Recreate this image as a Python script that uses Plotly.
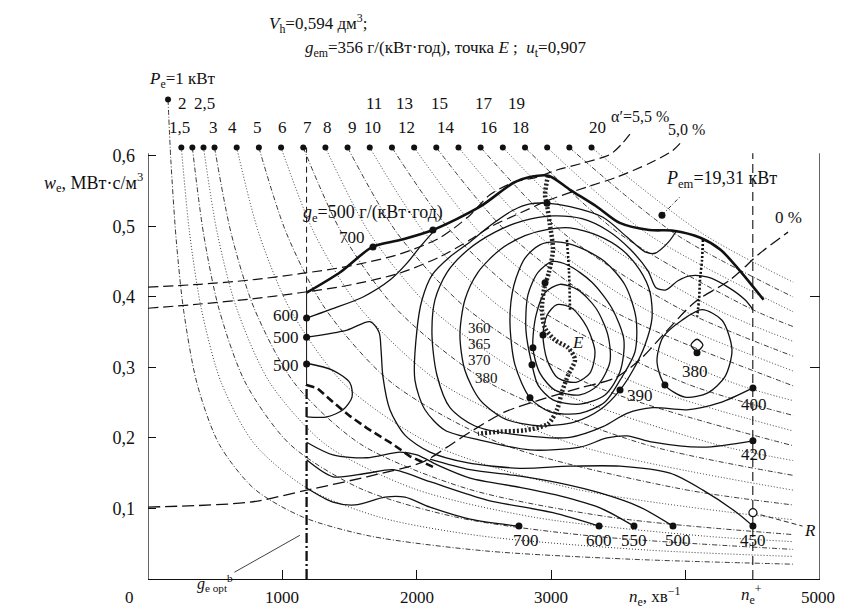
import plotly.graph_objects as go

SERIF = "Liberation Serif"
INK = "#111111"

# ---------------- data: n_e (min^-1), w_e (MJ/m^3) ----------------
full_load_n = [1180, 1430, 1670, 1880, 2120, 2470, 2720, 2840, 2980, 3140, 3340, 3510, 3730, 3910, 4110, 4260, 4400, 4580]
full_load_w = [0.406, 0.435, 0.471, 0.481, 0.495, 0.528, 0.562, 0.570, 0.572, 0.552, 0.528, 0.505, 0.495, 0.494, 0.484, 0.467, 0.438, 0.396]

power_kw = [1, 1.5, 2, 2.5, 3, 4, 5, 6, 7, 8, 9, 10, 11, 12, 13, 14, 15, 16, 17, 18, 19, 20]
power_n = [
    [149, 170, 210, 265, 365, 530, 790, 1150, 1650, 2500, 3600, 4800],
    [248, 310, 397, 546, 794, 1190, 1736, 2480, 3720, 4800],
    [330, 413, 528, 726, 1056, 1584, 2310, 3300, 4800],
    [413, 516, 661, 908, 1320, 1980, 2890, 4130, 4800],
    [495, 619, 792, 1089, 1584, 2376, 3465, 4800],
    [660, 825, 1056, 1452, 2112, 3168, 4800],
    [825, 1031, 1320, 1815, 2640, 3960, 4800],
    [990, 1238, 1584, 2178, 3168, 4800],
    [1155, 1444, 1848, 2541, 3696, 4800],
    [1320, 1650, 2112, 2904, 4224, 4800],
    [1485, 1856, 2376, 3267, 4800],
    [1650, 2063, 2640, 3630, 4800],
    [1815, 2269, 2904, 3993, 4800],
    [1980, 2475, 3168, 4356, 4800],
    [2145, 2681, 3432, 4800],
    [2310, 2888, 3696, 4800],
    [2475, 3094, 3960, 4800],
    [2640, 3300, 4224, 4800],
    [2805, 3506, 4488, 4800],
    [2970, 3713, 4800],
    [3135, 3919, 4800],
    [3300, 4125, 4800],
]
power_w = [
    [0.68, 0.594, 0.481, 0.381, 0.277, 0.191, 0.128, 0.088, 0.061, 0.040, 0.028, 0.021],
    [0.612, 0.490, 0.383, 0.278, 0.191, 0.128, 0.087, 0.061, 0.041, 0.032],
    [0.612, 0.490, 0.383, 0.278, 0.191, 0.128, 0.087, 0.061, 0.042],
    [0.612, 0.490, 0.383, 0.278, 0.191, 0.128, 0.087, 0.061, 0.053],
    [0.612, 0.490, 0.383, 0.278, 0.191, 0.128, 0.087, 0.063],
    [0.612, 0.490, 0.383, 0.278, 0.191, 0.128, 0.084],
    [0.612, 0.490, 0.383, 0.278, 0.191, 0.128, 0.105],
    [0.612, 0.490, 0.383, 0.278, 0.191, 0.126],
    [0.612, 0.490, 0.383, 0.278, 0.191, 0.147],
    [0.612, 0.490, 0.383, 0.278, 0.191, 0.168],
    [0.612, 0.490, 0.383, 0.278, 0.189],
    [0.612, 0.490, 0.383, 0.278, 0.210],
    [0.612, 0.490, 0.383, 0.278, 0.232],
    [0.612, 0.490, 0.383, 0.278, 0.253],
    [0.612, 0.490, 0.383, 0.274],
    [0.612, 0.490, 0.383, 0.295],
    [0.612, 0.490, 0.383, 0.316],
    [0.612, 0.490, 0.383, 0.337],
    [0.612, 0.490, 0.383, 0.358],
    [0.612, 0.490, 0.379],
    [0.612, 0.490, 0.400],
    [0.612, 0.490, 0.421],
]
power_label_top = ["2", "2,5", "11", "13", "15", "17", "19"]
power_label_top_n = [260, 424, 1681, 1912, 2172, 2500, 2745]
power_label_low = ["1,5", "3", "4", "5", "6", "7", "8", "9", "10", "12", "14", "16", "18", "20"]
power_label_low_n = [238, 484, 632, 811, 997, 1183, 1339, 1518, 1667, 1920, 2217, 2530, 2775, 3348]

# specific fuel consumption contours g_e, g/(kW*h)
ge360_n = [2939, 2969, 3043, 3155, 3266, 3326, 3288, 3184, 3050, 2969, 2939]
ge360_w = [0.346, 0.374, 0.389, 0.384, 0.357, 0.322, 0.292, 0.279, 0.285, 0.311, 0.346]
ge365_n = [2864, 2887, 2954, 3065, 3199, 3333, 3422, 3437, 3348, 3214, 3028, 2916, 2864]
ge365_w = [0.328, 0.374, 0.406, 0.418, 0.410, 0.384, 0.346, 0.308, 0.275, 0.261, 0.268, 0.292, 0.328]
ge370_n = [2857, 2812, 2827, 2902, 3006, 3125, 3303, 3452, 3541, 3512, 3400, 3214, 3013, 2902, 2857]
ge370_w = [0.304, 0.353, 0.403, 0.435, 0.450, 0.445, 0.421, 0.384, 0.339, 0.294, 0.261, 0.248, 0.254, 0.275, 0.304]
ge380_n = [2842, 2730, 2693, 2723, 2805, 2916, 3043, 3214, 3400, 3549, 3631, 3623, 3512, 3400, 3214, 2991, 2842]
ge380_w = [0.257, 0.304, 0.367, 0.417, 0.455, 0.474, 0.478, 0.470, 0.450, 0.417, 0.370, 0.322, 0.282, 0.251, 0.235, 0.237, 0.257]
ge390_n = [3512, 3608, 3698, 3750, 3735, 3660, 3527, 3348, 3140, 2976, 2805, 2619, 2455, 2358, 2321, 2358, 2470, 2656, 2916, 3177, 3363, 3512]
ge390_w = [0.268, 0.296, 0.332, 0.370, 0.407, 0.438, 0.467, 0.487, 0.498, 0.496, 0.487, 0.467, 0.435, 0.396, 0.346, 0.296, 0.254, 0.227, 0.217, 0.223, 0.240, 0.268]
ge380b_n = [3846, 3787, 3832, 3973, 4122, 4271, 4345, 4293, 4166, 3995, 3846]
ge380b_w = [0.275, 0.308, 0.343, 0.367, 0.382, 0.367, 0.325, 0.287, 0.264, 0.258, 0.275]
ge380c_n = [4040, 4085, 4129, 4085, 4040]
ge380c_w = [0.332, 0.340, 0.332, 0.323, 0.332]
ge400_n = [4501, 4256, 4010, 3757, 3564, 3385, 3140, 2768, 2433, 2247, 2150, 2113, 2135, 2225, 2381, 2582, 2790, 3013, 3229, 3422, 3586, 3720, 3780, 3854, 3943, 4032, 4166, 4315, 4442, 4501]
ge400_w = [0.271, 0.250, 0.240, 0.243, 0.235, 0.216, 0.201, 0.204, 0.217, 0.243, 0.289, 0.346, 0.396, 0.435, 0.467, 0.492, 0.508, 0.515, 0.511, 0.494, 0.468, 0.437, 0.413, 0.410, 0.423, 0.430, 0.428, 0.414, 0.396, 0.382]
ge420_n = [3936, 3869, 3772, 3698, 3564, 3385, 3140, 2969, 2842, 2716, 2544, 2396, 2247, 2113, 2039, 2001, 1986, 2061, 2210, 2470, 2842, 3214, 3415, 3564, 3757, 4129, 4501]
ge420_w = [0.495, 0.477, 0.462, 0.464, 0.485, 0.513, 0.528, 0.533, 0.532, 0.523, 0.501, 0.478, 0.457, 0.431, 0.396, 0.353, 0.282, 0.240, 0.211, 0.197, 0.183, 0.187, 0.200, 0.203, 0.194, 0.187, 0.196]
ge450_n = [1180, 1481, 1652, 1719, 1734, 1748, 1800, 1912, 2098, 2373, 2768, 3140, 3512, 3884, 4129, 4382, 4501]
ge450_w = [0.343, 0.353, 0.365, 0.350, 0.325, 0.287, 0.240, 0.204, 0.180, 0.165, 0.157, 0.160, 0.160, 0.150, 0.126, 0.094, 0.075]
ge600a_n = [1180, 1354, 1600, 1800, 1927, 2024, 2120]
ge600a_w = [0.370, 0.382, 0.400, 0.424, 0.448, 0.471, 0.492]
ge500loop_n = [1180, 1376, 1503, 1518, 1451, 1332, 1180]
ge500loop_w = [0.306, 0.296, 0.278, 0.258, 0.240, 0.230, 0.230]
ge500_n = [2098, 2396, 2768, 3065, 3363, 3660, 3906]
ge500_w = [0.170, 0.155, 0.146, 0.136, 0.122, 0.102, 0.075]
ge550_n = [1180, 1376, 1629, 1875, 2001, 2172, 2396, 2768, 3065, 3363, 3616]
ge550_w = [0.194, 0.176, 0.172, 0.180, 0.176, 0.160, 0.143, 0.130, 0.118, 0.101, 0.075]
ge600_n = [1180, 1376, 1629, 1823, 2098, 2522, 3013, 3356]
ge600_w = [0.169, 0.145, 0.150, 0.155, 0.138, 0.112, 0.094, 0.075]
ge700_n = [1180, 1376, 1540, 1763, 1912, 2098, 2396, 2760]
ge700_w = [0.129, 0.109, 0.105, 0.116, 0.116, 0.102, 0.085, 0.075]

# regulation lines alpha'
alpha55_n = [0, 387, 759, 1131, 1503, 1875, 2172, 2396, 2544, 2716, 2894, 3043, 3236, 3437, 3530, 3590]
alpha55_w = [0.414, 0.418, 0.424, 0.433, 0.444, 0.461, 0.484, 0.516, 0.545, 0.562, 0.570, 0.580, 0.590, 0.602, 0.618, 0.632]
alpha50_n = [0, 387, 759, 1131, 1503, 1875, 2172, 2396, 2544, 2768, 2991, 3266, 3489, 3735, 3900, 3960]
alpha50_w = [0.384, 0.390, 0.397, 0.406, 0.417, 0.434, 0.457, 0.481, 0.499, 0.519, 0.538, 0.556, 0.570, 0.590, 0.607, 0.618]
alpha0_n = [0, 759, 1180, 1629, 2046, 2225, 2418, 2656, 2916, 3214, 3474, 3660, 3846, 4070, 4330, 4553, 4762]
alpha0_w = [0.102, 0.109, 0.126, 0.145, 0.166, 0.187, 0.211, 0.237, 0.254, 0.271, 0.285, 0.311, 0.349, 0.393, 0.424, 0.462, 0.492]

# optimum-control lines
opt_main_n = [2976, 2954, 2969, 2991, 3013, 2983, 2946, 2931, 2954, 3028, 3125, 3177, 3125, 3080, 3043, 2976, 2805, 2619, 2455]
opt_main_w = [0.572, 0.545, 0.530, 0.502, 0.467, 0.435, 0.410, 0.382, 0.356, 0.339, 0.328, 0.311, 0.289, 0.265, 0.240, 0.220, 0.211, 0.209, 0.206]
opt_mid_n = [3117, 3132, 3140]
opt_mid_w = [0.481, 0.438, 0.382]
opt_right_n = [4129, 4122, 4107, 4100, 4085]
opt_right_w = [0.481, 0.452, 0.424, 0.396, 0.372]
bold_dash_n = [1180, 1257, 1376, 1503, 1629, 1823, 1949, 2120]
bold_dash_w = [0.275, 0.271, 0.251, 0.231, 0.214, 0.191, 0.174, 0.159]

n_opt_b = 1180
n_plus = 4500
w_frame_top = 0.604
x_max = 5000
w_max = 0.807

dots_n = [1180, 1180, 1180, 1674, 2120, 2969, 2954, 2939, 2864, 2857, 2842, 3512, 3846, 4501, 4501, 4501, 3906, 3616, 3356, 2760, 3824, 4085]
dots_w = [0.370, 0.343, 0.305, 0.471, 0.495, 0.533, 0.420, 0.346, 0.328, 0.304, 0.257, 0.268, 0.275, 0.271, 0.196, 0.075, 0.075, 0.075, 0.075, 0.075, 0.516, 0.321]
point_r_n = [4501, 4870]
point_r_w = [0.094, 0.075]
pem_leader_n = [3824, 3958]
pem_leader_w = [0.516, 0.542]

x_tick_text = ["0", "1000", "2000", "3000", "5000"]
x_tick_pos = [-134, 1000, 2000, 3000, 4985]

# ---------------- figure ----------------
fig = go.Figure()


def line(xs, ys, width=1.2, dash="solid", shape="spline", color=INK):
    fig.add_trace(go.Scatter(x=xs, y=ys, mode="lines", hoverinfo="skip",
                             line=dict(color=color, width=width, dash=dash, shape=shape,
                                       smoothing=0.8 if shape == "spline" else None)))


# constant power hyperbolas
for i, (xs, ys) in enumerate(zip(power_n, power_w)):
    line(xs, ys, width=0.9, dash="5px,2px,1px,2px" if i % 2 == 0 else "1px,2px", color="#222222")

# vertical lines
line([n_opt_b, n_opt_b], [0, 0.275], width=2.3, dash="10px,3px,2px,3px", shape="linear")
line([n_opt_b, n_opt_b], [0.275, 0.406], width=1.0, shape="linear")
line([n_opt_b, n_opt_b], [0.406, 0.612], width=1.0, dash="6px,4px", shape="linear")
line([n_plus, n_plus], [0, w_frame_top], width=1.1, dash="9px,5px", shape="linear")

# alpha' lines
line(alpha55_n, alpha55_w, width=1.2, dash="10px,5px")
line(alpha50_n, alpha50_w, width=1.2, dash="10px,5px")
line(alpha0_n, alpha0_w, width=1.3, dash="12px,5px")

# g_e contours
for xs, ys in [(ge360_n, ge360_w), (ge365_n, ge365_w), (ge370_n, ge370_w), (ge380_n, ge380_w),
               (ge390_n, ge390_w), (ge380b_n, ge380b_w), (ge380c_n, ge380c_w), (ge400_n, ge400_w),
               (ge420_n, ge420_w), (ge450_n, ge450_w), (ge600a_n, ge600a_w), (ge500loop_n, ge500loop_w),
               (ge500_n, ge500_w), (ge550_n, ge550_w), (ge600_n, ge600_w), (ge700_n, ge700_w)]:
    line(xs, ys, width=1.3)

# optimum lines and bold dashed line
line(opt_main_n, opt_main_w, width=4.5, dash="2px,2px", color="#222222")
line(opt_mid_n, opt_mid_w, width=2.6, dash="2px,2px")
line(opt_right_n, opt_right_w, width=2.6, dash="2px,2px")
line(bold_dash_n, bold_dash_w, width=2.6, dash="8px,4px", shape="linear")

# full-load characteristic
line(full_load_n, full_load_w, width=2.6)

# leaders
line(point_r_n, point_r_w, width=0.9, dash="5px,3px", shape="linear")
line(pem_leader_n, pem_leader_w, width=0.9, dash="4px,2px,1px,2px", shape="linear")

# markers
fig.add_trace(go.Scatter(x=[xs[0] for xs in power_n], y=[ys[0] for ys in power_w], mode="markers",
                         marker=dict(color=INK, size=6), hoverinfo="skip"))
fig.add_trace(go.Scatter(x=dots_n, y=dots_w, mode="markers", marker=dict(color=INK, size=7), hoverinfo="skip"))
fig.add_trace(go.Scatter(x=point_r_n[:1], y=point_r_w[:1], mode="markers",
                         marker=dict(color="white", size=8, line=dict(color=INK, width=1.2)), hoverinfo="skip"))
# carrier for the right axis ticks
fig.add_trace(go.Scatter(x=[0], y=[0], mode="markers", marker=dict(opacity=0), yaxis="y2", hoverinfo="skip"))

ann = []


def text(x, y, s, size=17, xanchor="center", yanchor="middle", paper=False):
    if paper:
        ann.append(dict(x=x / x_max, y=y / w_max, xref="paper", yref="paper", text=s, showarrow=False,
                        xanchor=xanchor, yanchor=yanchor, font=dict(family=SERIF, size=size, color=INK)))
    else:
        ann.append(dict(x=x, y=y, xref="x", yref="y", text=s, showarrow=False, xanchor=xanchor,
                        yanchor=yanchor, font=dict(family=SERIF, size=size, color=INK)))


text(1272, 0.788, "<i>V</i><sub>h</sub>=0,594 дм<sup>3</sup>;")
text(2210, 0.752, "<i>g</i><sub>em</sub>=356 г/(кВт·год), точка <i>E</i> ;  <i>u</i><sub>t</sub>=0,907")
text(260, 0.708, "<i>P</i><sub>e</sub>=1 кВт")
for s, x in zip(power_label_top, power_label_top_n):
    text(x, 0.675, s)
for s, x in zip(power_label_low, power_label_low_n):
    text(x, 0.641, s)
text(3660, 0.656, "α′=5,5 %", size=16)
text(4010, 0.637, "5,0 %", size=16)
text(4270, 0.566, "<i>P</i><sub>em</sub>=19,31 кВт", size=18)
text(4762, 0.513, "0 %")
text(1674, 0.519, "<i>g</i><sub>e</sub>=500 г/(кВт·год)", size=18)
text(1518, 0.484, "700")
text(1140, 0.374, "600", xanchor="right")
text(1140, 0.343, "500", xanchor="right")
text(1140, 0.303, "500", xanchor="right")
text(2470, 0.356, "360", size=15)
text(2470, 0.333, "365", size=15)
text(2470, 0.311, "370", size=15)
text(2515, 0.285, "380", size=15)
text(3200, 0.335, "<i>E</i>")
text(3660, 0.260, "390")
text(4070, 0.294, "380")
text(4508, 0.247, "400")
text(4508, 0.176, "420")
for s, x in zip(["700", "600", "550", "500", "450"], [2812, 3356, 3616, 3943, 4501]):
    text(x, 0.055, s)
text(4925, 0.069, "<i>R</i>")
# x-axis labels (outside the axis range -> paper coordinates)
for s, x in zip(x_tick_text, x_tick_pos):
    text(x, -0.010, s, size=17, yanchor="top", paper=True)
text(3772, -0.004, "<i>n</i><sub>e</sub>, хв<sup>−1</sup>", size=17, yanchor="top", paper=True)
text(4494, -0.002, "<i>n</i><sub>e</sub><sup>+</sup>", size=17, yanchor="top", paper=True)
text(-25, 0.562, "<i>w</i><sub>e</sub>, МВт·с/м<sup>3</sup>", size=18, xanchor="right", paper=True)
ann.append(dict(x=1130, y=0.062, xref="x", yref="y", ax=-85, ay=48, showarrow=True, arrowhead=0,
                arrowwidth=0.8, arrowcolor=INK, text="<i>g</i><sub>e opt</sub><sup>b</sup>",
                font=dict(family=SERIF, size=16, color=INK)))

# the page body adds an 8 px offset, so the figure is sized to fit the 846x613 window
fig.update_layout(
    width=838, height=605,
    margin=dict(l=140, r=26, t=2, b=34),
    paper_bgcolor="white", plot_bgcolor="white",
    showlegend=False,
    annotations=ann,
    xaxis=dict(range=[0, x_max], showgrid=False, zeroline=False, showline=True, linecolor=INK, linewidth=1.3,
               ticks="inside", ticklen=9, tickcolor=INK, tickvals=[1000, 2000, 3000, 4000], showticklabels=False),
    yaxis=dict(range=[0, w_max], showgrid=False, zeroline=False, showline=False,
               ticks="inside", ticklen=8, tickcolor=INK,
               tickvals=[0.1, 0.2, 0.3, 0.4, 0.5, 0.6],
               ticktext=["0,1", "0,2", "0,3", "0,4", "0,5", "0,6"],
               tickfont=dict(family=SERIF, size=18, color=INK), ticklabelstandoff=12),
    yaxis2=dict(range=[0, w_max], overlaying="y", side="right", showgrid=False, zeroline=False, showline=False,
                ticks="inside", ticklen=10, tickcolor=INK, tickvals=[0.3, 0.4], showticklabels=False),
    shapes=[
        dict(type="line", xref="x", yref="y", x0=0, x1=0, y0=0, y1=w_frame_top, line=dict(color=INK, width=1.3)),
        dict(type="line", xref="x", yref="y", x0=x_max, x1=x_max, y0=0, y1=w_frame_top, line=dict(color=INK, width=1.3)),
    ],
)

fig.write_html("out.html")
